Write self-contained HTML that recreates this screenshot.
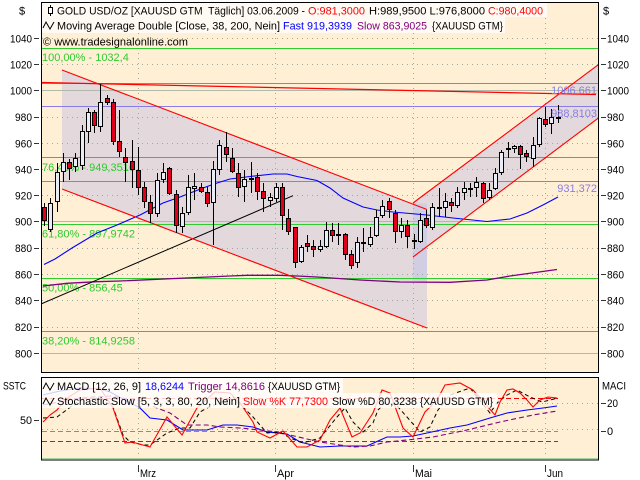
<!DOCTYPE html>
<html><head><meta charset="utf-8"><style>
html,body{margin:0;padding:0;background:#fff;}
svg{display:block;}
text{font-family:"Liberation Sans",sans-serif;font-size:11px;white-space:pre;}
</style></head><body>
<svg width="640" height="480" viewBox="0 0 640 480" xmlns="http://www.w3.org/2000/svg">
<defs>
<clipPath id="cm"><rect x="42" y="3" width="556" height="369"/></clipPath>
<clipPath id="cb"><rect x="42" y="378" width="556" height="82"/></clipPath>
</defs>
<rect width="640" height="480" fill="#fff"/>

<!-- ===== MAIN PANEL ===== -->
<rect x="41.5" y="2.5" width="557" height="370" fill="#FFEFD5"/>
<g clip-path="url(#cm)">
  <polygon points="62,70 427,209.5 427,328 62,189" fill="#E3D9DC"/>
  <polygon points="413,203 598,65 598,118.3 413,257" fill="#E3D9DC"/>
  <rect x="413" y="203.5" width="14" height="77" fill="#D1CDE2"/>

  <g stroke="#9cab9c" stroke-dasharray="1 4" fill="none" shape-rendering="crispEdges">
    <path d="M42 38.5H598M42 64.5H598M42 117.5H598M42 143.5H598M42 169.5H598M42 195.5H598M42 248.5H598M42 274.5H598M42 300.5H598M42 327.5H598"/>
    <path d="M138.5 3V372M275.5 3V372M413.5 3V372M545.5 3V372"/>
  </g>
  <g stroke="#b2b9aa" shape-rendering="crispEdges">
    <path d="M42 90.5H598M42 221.5H598M42 353.5H598"/>
  </g>

  <g stroke="#2ecc2e" shape-rendering="crispEdges">
    <path d="M42 48.5H598M42 157.5H598M42 224.5H598M42 278.5H598M42 331.5H598"/>
  </g>
  <g fill="#2ecc2e">
    <text x="42" y="61">100,00% - 1032,4</text>
    <text x="42" y="171">76,40% - 949,3516</text>
    <text x="42" y="237.5">61,80% - 897,9742</text>
    <text x="42" y="291.5">50,00% - 856,45</text>
    <text x="42" y="344.5">38,20% - 814,9258</text>
  </g>

  <g stroke="#8a7ce6" shape-rendering="crispEdges">
    <path d="M42 83.5H598M42 106.5H598M42 181.5H598"/>
  </g>

  <line x1="41" y1="82.5" x2="596" y2="94.5" stroke="#ff0000" stroke-width="1.2"/>

  <polyline fill="none" stroke="#0000ff" stroke-width="1.1" points="44,264.5 55,259 72,248 97,233 117,225 140,215 163,203 180,197 203,188 217,183 230,179 250,176.5 273,174 287,174 297,176.5 317,180.5 330,188 343,198 363,207 377,210 393,212 410,213.5 427,215 453,218 487,221.5 510,219 527,213 543,205 558,197"/>
  <polyline fill="none" stroke="#800080" stroke-width="1.3" points="43,286 67,283.3 97,281.7 120,281 230,276 247,275.3 280,275.3 297,276 317,277 360,280 400,282 450,282.3 487,280 510,276 557,269.5"/>

  <line x1="41" y1="304" x2="293" y2="195.7" stroke="#000" stroke-width="1"/>

  <g stroke="#ff0000" stroke-width="1.1">
    <line x1="62" y1="70" x2="427" y2="209.5"/>
    <line x1="62" y1="189" x2="427" y2="328"/>
    <line x1="413" y1="203" x2="598" y2="65"/>
    <line x1="413" y1="257" x2="598" y2="118.3"/>
  </g>

  <path fill="none" stroke="#000" shape-rendering="crispEdges" d="M44.5 203V226M50.5 198V232M57.5 163V212M63.5 153V182M69.5 159V180M75.5 153V172M82.5 125V170M88.5 108V143M94.5 110V133M100.5 84V132M107.5 95V105M113.5 99V145M119.5 110V157M125.5 148V182M132.5 140V188M138.5 147V195M144.5 182V208M150.5 195V223M157.5 173V217M163.5 163V183M169.5 167V195M176.5 190V233M182.5 207V233M188.5 175V215M194.5 173V200M201.5 183V193M207.5 187V207M213.5 161V245M219.5 140V175M226.5 132V162M232.5 148V173M238.5 163V197M244.5 170V202M251.5 162V193M257.5 173V200M263.5 183V212M270.5 193V207M276.5 183V202M282.5 183V230M288.5 209V235M295.5 227V268M301.5 245V263M307.5 235V252M313.5 240V257M320.5 240V252M326.5 222V248M332.5 223V242M338.5 223V245M345.5 233V260M351.5 250V269M357.5 237V268M363.5 228V252M370.5 227V247M376.5 210V237M382.5 200V218M389.5 198V218M395.5 210V243M401.5 218V238M407.5 220V248M414.5 234V249M420.5 213V243M426.5 210V228M432.5 203V230M439.5 188V217M445.5 193V217M451.5 198V212M457.5 187V208M464.5 182V200M470.5 183V197M476.5 177V197M483.5 182V203M489.5 183V200M495.5 168V190M501.5 150V175M508.5 142V158M514.5 145V153M520.5 145V169M526.5 150V162M533.5 137V167M539.5 117V147M545.5 107V127M551.5 109V134M558.5 105V123"/>

  <g fill="#E9EBF7" stroke="#000" shape-rendering="crispEdges">
    <rect x="48.5" y="203.5" width="4" height="26"/>
    <rect x="55.5" y="172.5" width="4" height="29"/>
    <rect x="61.5" y="162.5" width="4" height="9"/>
    <rect x="73.5" y="158.5" width="4" height="8"/>
    <rect x="80.5" y="131.5" width="4" height="34"/>
    <rect x="86.5" y="112.5" width="4" height="19"/>
    <rect x="98.5" y="102.5" width="4" height="24"/>
    <rect x="155.5" y="180.5" width="4" height="33"/>
    <rect x="161.5" y="172.5" width="4" height="7"/>
    <rect x="180.5" y="213.5" width="4" height="13"/>
    <rect x="186.5" y="187.5" width="4" height="25"/>
    <rect x="192.5" y="186.5" width="4" height="2"/>
    <rect x="211.5" y="169.5" width="4" height="33"/>
    <rect x="217.5" y="145.5" width="4" height="24"/>
    <rect x="242.5" y="179.5" width="4" height="7"/>
    <rect x="249.5" y="178.5" width="4" height="1"/>
    <rect x="268.5" y="197.5" width="4" height="3"/>
    <rect x="274.5" y="187.5" width="4" height="11"/>
    <rect x="299.5" y="247.5" width="4" height="14"/>
    <rect x="318.5" y="246.5" width="4" height="3"/>
    <rect x="324.5" y="230.5" width="4" height="16"/>
    <rect x="355.5" y="242.5" width="4" height="20"/>
    <rect x="368.5" y="237.5" width="4" height="7"/>
    <rect x="374.5" y="217.5" width="4" height="18"/>
    <rect x="380.5" y="206.5" width="4" height="9"/>
    <rect x="399.5" y="225.5" width="4" height="6"/>
    <rect x="418.5" y="220.5" width="4" height="21"/>
    <rect x="430.5" y="207.5" width="4" height="20"/>
    <rect x="443.5" y="201.5" width="4" height="6"/>
    <rect x="455.5" y="192.5" width="4" height="13"/>
    <rect x="462.5" y="188.5" width="4" height="4"/>
    <rect x="474.5" y="182.5" width="4" height="5"/>
    <rect x="487.5" y="190.5" width="4" height="7"/>
    <rect x="493.5" y="173.5" width="4" height="15"/>
    <rect x="499.5" y="152.5" width="4" height="20"/>
    <rect x="506.5" y="148.5" width="4" height="1"/>
    <rect x="512.5" y="146.5" width="4" height="2"/>
    <rect x="531.5" y="145.5" width="4" height="13"/>
    <rect x="537.5" y="118.5" width="4" height="26"/>
    <rect x="549.5" y="117.5" width="4" height="6"/>
  </g>
  <g fill="#E0001C" stroke="#000" shape-rendering="crispEdges">
    <rect x="42.5" y="207.5" width="4" height="13"/>
    <rect x="67.5" y="162.5" width="4" height="6"/>
    <rect x="92.5" y="112.5" width="4" height="13"/>
    <rect x="105.5" y="98.5" width="4" height="4"/>
    <rect x="111.5" y="102.5" width="4" height="39"/>
    <rect x="117.5" y="141.5" width="4" height="10"/>
    <rect x="123.5" y="157.5" width="4" height="5"/>
    <rect x="130.5" y="161.5" width="4" height="8"/>
    <rect x="136.5" y="170.5" width="4" height="17"/>
    <rect x="142.5" y="187.5" width="4" height="14"/>
    <rect x="148.5" y="202.5" width="4" height="11"/>
    <rect x="167.5" y="168.5" width="4" height="25"/>
    <rect x="174.5" y="194.5" width="4" height="31"/>
    <rect x="199.5" y="187.5" width="4" height="4"/>
    <rect x="205.5" y="192.5" width="4" height="11"/>
    <rect x="224.5" y="147.5" width="4" height="7"/>
    <rect x="230.5" y="158.5" width="4" height="13"/>
    <rect x="236.5" y="173.5" width="4" height="14"/>
    <rect x="255.5" y="177.5" width="4" height="14"/>
    <rect x="261.5" y="191.5" width="4" height="7"/>
    <rect x="280.5" y="187.5" width="4" height="28"/>
    <rect x="286.5" y="218.5" width="4" height="13"/>
    <rect x="293.5" y="227.5" width="4" height="35"/>
    <rect x="305.5" y="243.5" width="4" height="3"/>
    <rect x="311.5" y="246.5" width="4" height="3"/>
    <rect x="330.5" y="230.5" width="4" height="5"/>
    <rect x="343.5" y="234.5" width="4" height="20"/>
    <rect x="349.5" y="254.5" width="4" height="11"/>
    <rect x="361.5" y="242.5" width="4" height="1"/>
    <rect x="387.5" y="201.5" width="4" height="8"/>
    <rect x="393.5" y="213.5" width="4" height="18"/>
    <rect x="405.5" y="225.5" width="4" height="11"/>
    <rect x="424.5" y="218.5" width="4" height="7"/>
    <rect x="449.5" y="202.5" width="4" height="3"/>
    <rect x="481.5" y="183.5" width="4" height="15"/>
    <rect x="518.5" y="146.5" width="4" height="8"/>
    <rect x="524.5" y="153.5" width="4" height="3"/>
    <rect x="543.5" y="119.5" width="4" height="5"/>
  </g>
  <g fill="#000" shape-rendering="crispEdges">
    <rect x="336" y="234" width="5" height="2"/>
    <rect x="412" y="240" width="5" height="2"/>
    <rect x="437" y="207" width="5" height="2"/>
    <rect x="468" y="188" width="5" height="2"/>
    <rect x="556" y="117" width="5" height="2"/>
  </g>

  <g fill="#8a7ce6" text-anchor="end">
    <text x="597" y="94">1006,661</text>
    <text x="597" y="117">988,8103</text>
    <text x="597" y="192">931,372</text>
  </g>

  <rect x="42" y="3" width="505" height="14" fill="#FFFBF4"/>
  <rect x="42" y="17" width="463" height="16" fill="#FFFBF4"/>
  <line x1="50.5" y1="5" x2="50.5" y2="16" stroke="#000"/>
  <rect x="48.5" y="7.5" width="4" height="6" fill="#fff" stroke="#000"/>
  <text x="57" y="14.5" textLength="248" lengthAdjust="spacingAndGlyphs">GOLD USD/OZ [XAUUSD GTM  Täglich] 03.06.2009 -</text>
  <text x="308" y="14.5" fill="#ff0000" textLength="57" lengthAdjust="spacingAndGlyphs">O:981,3000</text>
  <text x="369" y="14.5" textLength="116" lengthAdjust="spacingAndGlyphs">H:989,9500 L:976,8000</text>
  <text x="488" y="14.5" fill="#ff0000" textLength="55" lengthAdjust="spacingAndGlyphs">C:980,4000</text>
  <polyline points="43,28 46,22 50,29 54,22" fill="none" stroke="#000"/>
  <text x="57" y="29.5" textLength="223" lengthAdjust="spacingAndGlyphs">Moving Average Double [Close, 38, 200, Nein]</text>
  <text x="283" y="29.5" fill="#0000ff" textLength="69" lengthAdjust="spacingAndGlyphs">Fast 919,3939</text>
  <text x="357" y="29.5" fill="#800080" textLength="70" lengthAdjust="spacingAndGlyphs">Slow 863,9025</text>
  <text x="432" y="29.5" textLength="71" lengthAdjust="spacingAndGlyphs">{XAUUSD GTM}</text>
  <text x="43" y="45.5" textLength="145" lengthAdjust="spacingAndGlyphs">© www.tradesignalonline.com</text>
</g>
<rect x="41.5" y="2.5" width="557" height="370" fill="none" stroke="#000"/>

<g stroke="#333" shape-rendering="crispEdges">
  <path d="M34 38.5H39M34 64.5H39M34 90.5H39M34 117.5H39M34 143.5H39M34 169.5H39M34 195.5H39M34 221.5H39M34 248.5H39M34 274.5H39M34 300.5H39M34 327.5H39M34 353.5H39"/>
  <path d="M601 38.5H606M601 64.5H606M601 90.5H606M601 117.5H606M601 143.5H606M601 169.5H606M601 195.5H606M601 221.5H606M601 248.5H606M601 274.5H606M601 300.5H606M601 327.5H606M601 353.5H606"/>
</g>
<g text-anchor="end">
  <text x="32" y="42.5" textLength="22" lengthAdjust="spacingAndGlyphs">1040</text>
  <text x="32" y="68.5" textLength="22" lengthAdjust="spacingAndGlyphs">1020</text>
  <text x="32" y="94.5" textLength="22" lengthAdjust="spacingAndGlyphs">1000</text>
  <text x="32" y="121" textLength="17" lengthAdjust="spacingAndGlyphs">980</text>
  <text x="32" y="147.5" textLength="17" lengthAdjust="spacingAndGlyphs">960</text>
  <text x="32" y="173.5" textLength="17" lengthAdjust="spacingAndGlyphs">940</text>
  <text x="32" y="199.5" textLength="17" lengthAdjust="spacingAndGlyphs">920</text>
  <text x="32" y="225.5" textLength="17" lengthAdjust="spacingAndGlyphs">900</text>
  <text x="32" y="252" textLength="17" lengthAdjust="spacingAndGlyphs">880</text>
  <text x="32" y="278.5" textLength="17" lengthAdjust="spacingAndGlyphs">860</text>
  <text x="32" y="304.5" textLength="17" lengthAdjust="spacingAndGlyphs">840</text>
  <text x="32" y="331" textLength="17" lengthAdjust="spacingAndGlyphs">820</text>
  <text x="32" y="357.5" textLength="17" lengthAdjust="spacingAndGlyphs">800</text>
</g>
<g>
  <text x="607" y="42.5" textLength="22" lengthAdjust="spacingAndGlyphs">1040</text>
  <text x="607" y="68.5" textLength="22" lengthAdjust="spacingAndGlyphs">1020</text>
  <text x="607" y="94.5" textLength="22" lengthAdjust="spacingAndGlyphs">1000</text>
  <text x="607" y="121" textLength="17" lengthAdjust="spacingAndGlyphs">980</text>
  <text x="607" y="147.5" textLength="17" lengthAdjust="spacingAndGlyphs">960</text>
  <text x="607" y="173.5" textLength="17" lengthAdjust="spacingAndGlyphs">940</text>
  <text x="607" y="199.5" textLength="17" lengthAdjust="spacingAndGlyphs">920</text>
  <text x="607" y="225.5" textLength="17" lengthAdjust="spacingAndGlyphs">900</text>
  <text x="607" y="252" textLength="17" lengthAdjust="spacingAndGlyphs">880</text>
  <text x="607" y="278.5" textLength="17" lengthAdjust="spacingAndGlyphs">860</text>
  <text x="607" y="304.5" textLength="17" lengthAdjust="spacingAndGlyphs">840</text>
  <text x="607" y="331" textLength="17" lengthAdjust="spacingAndGlyphs">820</text>
  <text x="607" y="357.5" textLength="17" lengthAdjust="spacingAndGlyphs">800</text>
</g>
<text x="19" y="14.5">$</text>
<text x="603" y="14.5">$</text>

<!-- ===== BOTTOM PANEL ===== -->
<rect x="41.5" y="377.5" width="557" height="82.5" fill="#FFEFD5"/>
<g clip-path="url(#cb)">
  <g stroke="#9cab9c" stroke-dasharray="1 4" fill="none" shape-rendering="crispEdges">
    <path d="M138.5 378V460M275.5 378V460M413.5 378V460M545.5 378V460"/>
    <path d="M42 403.5H598M42 429.5H598"/>
  </g>
  <line x1="42" y1="458.5" x2="598" y2="458.5" stroke="#a8d4a0" shape-rendering="crispEdges"/>
  <g fill="none" shape-rendering="crispEdges">
    <path d="M42 398.5H558M42 441.5H558" stroke="#ff0000" stroke-dasharray="5 3"/>
    <path d="M42 431.5H558" stroke="#8080e0" stroke-dasharray="5 3"/>
  </g>
  <polyline fill="none" stroke="#0000ff" stroke-width="1.1" points="43,395 60,391 80,388 100,389 110,392 125,400 140,408 150,418 167,420 183,430 207,430 223,425 237,425 253,427 267,432 287,434 300,442 320,447 340,446 367,446 387,437 400,437 413,436 427,433 450,428 467,425 490,418 507,413 527,410 543,408 557,406"/>
  <polyline fill="none" stroke="#800080" stroke-width="1.1" stroke-dasharray="5 3" points="43,405 80,398 110,396 140,401 157,408 170,413 177,418 187,425 207,425 220,427 240,428 260,430 277,432 290,435 307,439 320,442 340,445 353,447 370,446 387,442 407,440 433,437 467,430 500,422 533,415 557,411"/>
  <polyline fill="none" stroke="#000" stroke-width="1" stroke-dasharray="4 3" points="43,418 57,417 80,400 100,398 113,407 123,435 130,442 143,445 150,445 167,433 180,428 190,428 200,412 207,408 233,397 253,417 267,433 280,432 290,438 303,443 320,438 337,417 345,408 353,422 363,432 373,423 378,410 390,398 407,417 420,432 430,427 438,410 450,395 470,388 490,413 497,403 507,395 517,390 530,397 542,402 550,400 558,398"/>
  <polyline fill="none" stroke="#ff0000" stroke-width="1.1" points="43,422 50,415 57,410 67,398 80,390 100,388 113,408 125,443 132,442 150,447 167,417 182,435 197,408 215,392 230,393 240,403 253,422 257,432 270,438 283,431 297,447 307,447 320,440 330,420 340,408 352,437 360,433 373,413 382,390 390,393 403,428 413,437 425,412 437,400 445,385 460,383 473,390 488,407 495,415 500,402 507,390 513,389 520,393 527,400 533,407 540,400 548,397 557,398"/>

  <rect x="42" y="378" width="301" height="15" fill="#ffffff" fill-opacity="0.8"/>
  <rect x="42" y="393" width="455" height="15" fill="#ffffff" fill-opacity="0.8"/>
  <polyline points="43,389 46,383 50,390 54,383" fill="none" stroke="#000"/>
  <text x="57" y="390" textLength="84" lengthAdjust="spacingAndGlyphs">MACD [12, 26, 9]</text>
  <text x="145" y="390" fill="#0000ff" textLength="39" lengthAdjust="spacingAndGlyphs">18,6244</text>
  <text x="188" y="390" fill="#800080" textLength="77" lengthAdjust="spacingAndGlyphs">Trigger 14,8616</text>
  <text x="268" y="390" textLength="72" lengthAdjust="spacingAndGlyphs">{XAUUSD GTM}</text>
  <polyline points="43,404 46,398 50,405 54,398" fill="none" stroke="#000"/>
  <text x="57" y="405" textLength="183" lengthAdjust="spacingAndGlyphs">Stochastic Slow [5, 3, 3, 80, 20, Nein]</text>
  <text x="243" y="405" fill="#ff0000" textLength="85" lengthAdjust="spacingAndGlyphs">Slow %K 77,7300</text>
  <text x="332" y="405" textLength="85" lengthAdjust="spacingAndGlyphs">Slow %D 80,3238</text>
  <text x="420" y="405" textLength="73" lengthAdjust="spacingAndGlyphs">{XAUUSD GTM}</text>
</g>
<rect x="41.5" y="377.5" width="557" height="82.5" fill="none" stroke="#000"/>

<text x="3" y="389.5" textLength="23" lengthAdjust="spacingAndGlyphs">SSTC</text>
<text x="32" y="424" text-anchor="end" textLength="12" lengthAdjust="spacingAndGlyphs">50</text>
<text x="602" y="389.5" textLength="24" lengthAdjust="spacingAndGlyphs">MACI</text>
<text x="607" y="407" textLength="11" lengthAdjust="spacingAndGlyphs">20</text>
<text x="607" y="435">0</text>
<g stroke="#333" shape-rendering="crispEdges">
  <path d="M34 420.5H39M601 403.5H606M601 431.5H606"/>
  <path d="M138.5 465V472M275.5 465V472M413.5 465V472M545.5 465V472"/>
</g>
<text x="140" y="477" textLength="16" lengthAdjust="spacingAndGlyphs">Mrz</text>
<text x="277" y="477" textLength="17" lengthAdjust="spacingAndGlyphs">Apr</text>
<text x="415" y="477" textLength="17" lengthAdjust="spacingAndGlyphs">Mai</text>
<text x="547" y="477" textLength="16" lengthAdjust="spacingAndGlyphs">Jun</text>
</svg>
</body></html>
